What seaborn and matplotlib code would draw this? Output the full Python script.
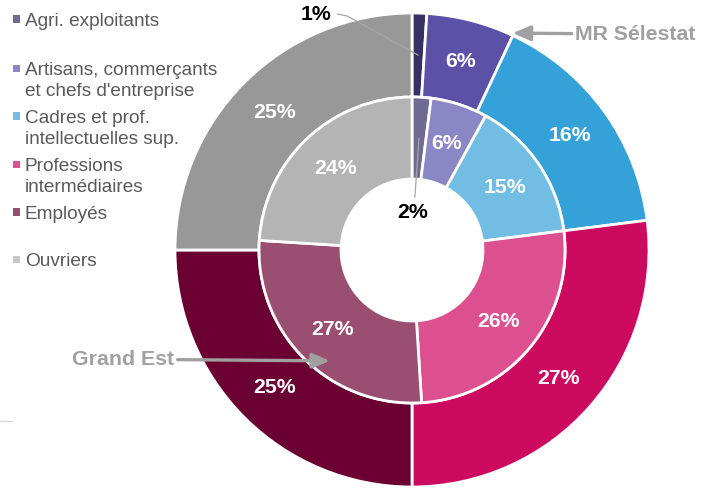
import numpy as np
import matplotlib
matplotlib.use("Agg")
import matplotlib.pyplot as plt
from matplotlib.lines import Line2D
from matplotlib.patches import Rectangle
import seaborn as sns

# Socio-professional categories: MR Sélestat (outer ring) vs Grand Est (inner ring)
categories = [
    "Agri. exploitants",
    "Artisans, commerçants\net chefs d'entreprise",
    "Cadres et prof.\nintellectuelles sup.",
    "Professions\nintermédiaires",
    "Employés",
    "Ouvriers",
]
selestat = [1, 6, 16, 27, 25, 25]
grand_est = [2, 6, 15, 26, 27, 24]

outer_colors = ["#363066", "#5b52a8", "#34a1d9", "#cc0a60", "#6b0032", "#989898"]
inner_colors = ["#6f6b92", "#8b86c4", "#71bde4", "#dc5090", "#9a4f70", "#b4b4b4"]
legend_colors = ["#6f6b92", "#8b86c4", "#71bde4", "#dc5090", "#9a4f70", "#c8c8c8"]

sns.set_style("white")
plt.rcParams["font.family"] = ["Liberation Sans", "DejaVu Sans"]

W, H = 709, 488
fig = plt.figure(figsize=(W / 100, H / 100), dpi=100)


def fx(x):
    return x / W


def fy(y):
    return 1 - y / H


# pie axes, centred on the donut
cx, cy, half = 412, 250, 240
ax = fig.add_axes([(cx - half) / W, (H - cy - half) / H, 2 * half / W, 2 * half / H])
r_out = 237 / half
r_mid = 153 / half
r_in = 71 / half

wp = dict(edgecolor="white", linewidth=2)
w_out, _ = ax.pie(selestat, radius=r_out, colors=outer_colors, startangle=90,
                  counterclock=False, wedgeprops=dict(width=r_out - r_mid, **wp))
w_in, _ = ax.pie(grand_est, radius=r_mid, colors=inner_colors, startangle=90,
                 counterclock=False, wedgeprops=dict(width=r_mid - r_in, **wp))
ax.set_xlim(-1, 1)
ax.set_ylim(-1, 1)
ax.set_aspect("equal")
ax.axis("off")


def mid_point(wedge, r):
    a = np.deg2rad((wedge.theta1 + wedge.theta2) / 2)
    return r * np.cos(a), r * np.sin(a)


pct_size = 15.3
lab = dict(color="white", fontsize=pct_size, fontweight="bold", ha="center", va="center")
for wedges, vals, r in [(w_out, selestat, (r_out + r_mid) / 2), (w_in, grand_est, (r_mid + r_in) / 2)]:
    for w, v in zip(wedges, vals):
        if v < 3:
            continue
        x, y = mid_point(w, r)
        ax.text(x, y, f"{v}%", **lab)

# small slices, labelled with leader lines
lead = dict(color="#a6a6a6", lw=0.9)
x0, y0 = mid_point(w_out[0], (r_out + r_mid) / 2)
ax.add_line(Line2D([x0, -0.27, -0.31], [y0, 0.975, 0.983], **lead))
ax.text(-0.40, 0.98, f"{selestat[0]}%", color="black", fontsize=pct_size,
        fontweight="bold", ha="center", va="center")

x1, y1 = mid_point(w_in[0], (r_mid + r_in) / 2)
ax.add_line(Line2D([x1, 0.012], [y1, 0.22], **lead))
ax.text(0.004, 0.158, f"{grand_est[0]}%", color="black", fontsize=pct_size,
        fontweight="bold", ha="center", va="center")

# series annotations
arrow = dict(arrowstyle="-|>,head_length=0.7,head_width=0.3", color="#a0a0a0",
             lw=2.4, mutation_scale=15, shrinkA=0, shrinkB=0)
ax.annotate("MR Sélestat", xy=(0.42, 0.904), xytext=(0.679, 0.899),
            color="#a0a0a0", fontsize=15.3, fontweight="bold", ha="left", va="center",
            arrowprops=arrow, annotation_clip=False)
ax.annotate("Grand Est", xy=(-0.342, -0.462), xytext=(-0.99, -0.455),
            color="#a0a0a0", fontsize=15.3, fontweight="bold", ha="right", va="center",
            arrowprops=arrow, annotation_clip=False)

# legend drawn by hand to keep the original spacing
leg_y = [19, 68, 116, 164, 212, 259]
for name, col, y in zip(categories, legend_colors, leg_y):
    fig.add_artist(Rectangle((fx(13), fy(y + 3.5)), 7 / W, 7 / H,
                             transform=fig.transFigure, color=col, lw=0))
    for i, line in enumerate(name.split("\n")):
        fig.text(fx(25), fy(y + 7 + i * 21), line, color="#595959",
                 fontsize=13.7, ha="left", va="baseline")

fig.add_artist(Line2D([0, fx(12)], [fy(421), fy(421)], color="#d9d9d9", lw=1,
                      transform=fig.transFigure))

fig.savefig("out.png", dpi=100)
